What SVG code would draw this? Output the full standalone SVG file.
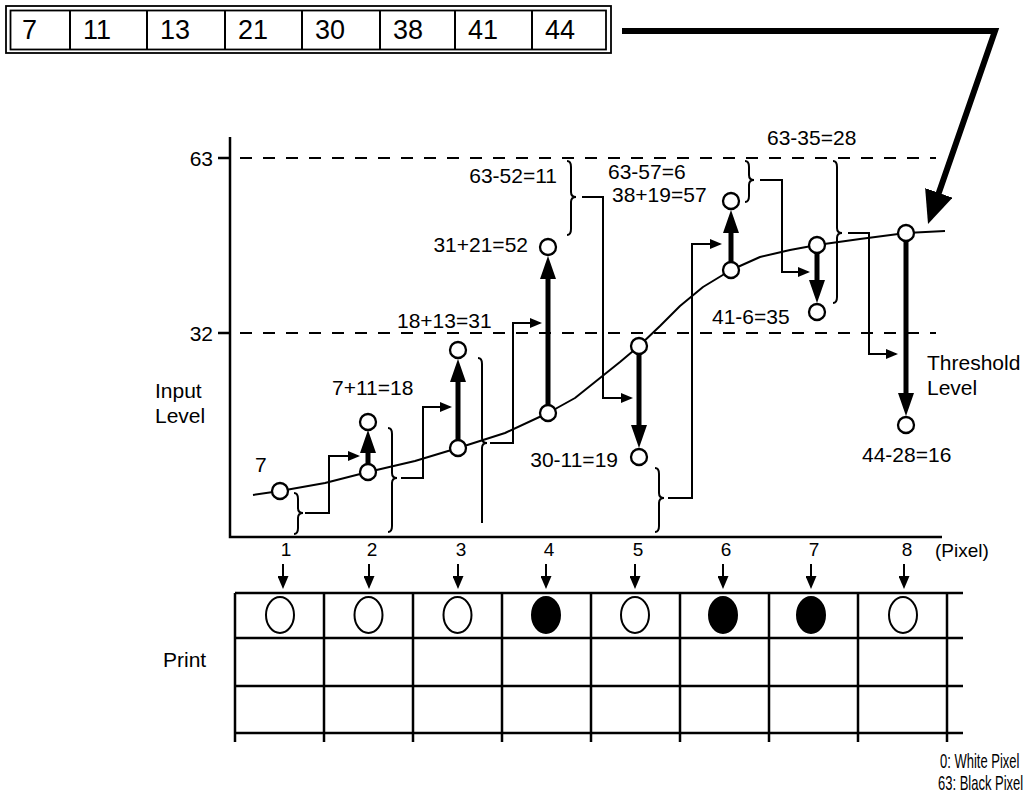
<svg xmlns="http://www.w3.org/2000/svg" width="1027" height="793" viewBox="0 0 1027 793">
<style>
text{font-family:"Liberation Sans",Arial,sans-serif;fill:#000}
.lb{font-size:21px}
.tb{font-size:27px}
.px{font-size:19px}
.lg{font-size:20px}
.ln{stroke:#000;fill:none;stroke-width:2}
.big{stroke:#000;fill:none;stroke-width:6;stroke-linejoin:miter}
.ax{stroke:#000;fill:none;stroke-width:2.5}
.dash{stroke:#000;fill:none;stroke-width:2;stroke-dasharray:12 11}
.br{stroke:#000;fill:none;stroke-width:2}
.thick{stroke:#000;fill:none;stroke-width:5}
.pt{fill:#fff;stroke:#000;stroke-width:2.3}
.el{fill:#fff;stroke:#000;stroke-width:2}
.elb{fill:#000;stroke:#000;stroke-width:2}
</style>
<defs>
<marker id="sa" markerUnits="userSpaceOnUse" markerWidth="12" markerHeight="10" refX="10" refY="5" orient="auto"><path d="M0,0 L12,5 L0,10 z" fill="#000"/></marker>
<marker id="ta" markerUnits="userSpaceOnUse" markerWidth="23" markerHeight="16" refX="1" refY="8" orient="auto"><path d="M0,0 L23,8 L0,16 z" fill="#000"/></marker>
<marker id="pa" markerUnits="userSpaceOnUse" markerWidth="13" markerHeight="11" refX="1" refY="5.5" orient="auto"><path d="M0,0 L13,5.5 L0,11 z" fill="#000"/></marker>
<marker id="ba" markerUnits="userSpaceOnUse" markerWidth="33" markerHeight="29" refX="1" refY="14.5" orient="auto"><path d="M0,0 L33,14.5 L0,29 z" fill="#000"/></marker>
</defs>

<g id="input-table">
<rect x="6" y="6" width="605" height="47" fill="none" stroke="#000" stroke-width="1.8"/>
<rect x="10.5" y="10.5" width="595.5" height="39" fill="none" stroke="#000" stroke-width="1.8"/>
<path class="ln" d="M70,10 V50 M147,10 V50 M225,10 V50 M302,10 V50 M380,10 V50 M455,10 V50 M532,10 V50"/>
<text class="tb" x="22" y="39">7</text>
<text class="tb" x="83" y="39">11</text>
<text class="tb" x="160" y="39">13</text>
<text class="tb" x="238" y="39">21</text>
<text class="tb" x="315" y="39">30</text>
<text class="tb" x="393" y="39">38</text>
<text class="tb" x="468" y="39">41</text>
<text class="tb" x="545" y="39">44</text>
</g>

<g id="axes">
<path class="ax" d="M230,137 V537 H942"/>
<path class="ax" d="M218,158 H230 M218,333 H230"/>
<path class="dash" d="M240,158 H936 M240,333 H936"/>
<text class="lb" x="213" y="166" text-anchor="end">63</text>
<text class="lb" x="213" y="341" text-anchor="end">32</text>
<text class="lb" x="155" y="398">Input</text>
<text class="lb" x="155" y="423">Level</text>
<text class="lb" x="927" y="370">Threshold</text>
<text class="lb" x="927" y="395">Level</text>
</g>

<g id="curve">
<polyline class="ln" stroke-linejoin="round" points="253,495 280,491 325,483 368,472 415,461 458,448 505,433 548,413 575,398 600,378 620,362 639,346 660,326 680,306 703,287 731,270 760,257 790,250 817,245 860,239 906,233 945,231"/>
</g>

<g id="connectors">
<polyline class="big" points="622,31 995,31 938.5,193.8" marker-end="url(#ba)"/>
<line class="thick" x1="368" y1="465" x2="368" y2="452" marker-end="url(#ta)"/>
<line class="thick" x1="458" y1="440" x2="458" y2="381" marker-end="url(#ta)"/>
<line class="thick" x1="548" y1="405" x2="548" y2="278" marker-end="url(#ta)"/>
<line class="thick" x1="639" y1="354" x2="639" y2="426" marker-end="url(#ta)"/>
<line class="thick" x1="731" y1="262" x2="731" y2="232" marker-end="url(#ta)"/>
<line class="thick" x1="817" y1="253" x2="817" y2="281" marker-end="url(#ta)"/>
<line class="thick" x1="906" y1="241" x2="906" y2="394" marker-end="url(#ta)"/>
<polyline class="ln" points="305,513 329,513 329,456 358,456" marker-end="url(#sa)"/>
<polyline class="ln" points="401,478 423,478 423,407 450,407" marker-end="url(#sa)"/>
<polyline class="ln" points="490,443 513,443 513,323 540,323" marker-end="url(#sa)"/>
<polyline class="ln" points="582,197 603,197 603,398 631,398" marker-end="url(#sa)"/>
<polyline class="ln" points="668,498 692,498 692,244 720,244" marker-end="url(#sa)"/>
<polyline class="ln" points="760,180 782,180 782,272 808,272" marker-end="url(#sa)"/>
<polyline class="ln" points="848,233 869,233 869,354 896,354" marker-end="url(#sa)"/>
<line class="ln" x1="283" y1="564" x2="283" y2="577" marker-end="url(#pa)"/>
<line class="ln" x1="369" y1="564" x2="369" y2="577" marker-end="url(#pa)"/>
<line class="ln" x1="458" y1="564" x2="458" y2="577" marker-end="url(#pa)"/>
<line class="ln" x1="546" y1="564" x2="546" y2="577" marker-end="url(#pa)"/>
<line class="ln" x1="635" y1="564" x2="635" y2="577" marker-end="url(#pa)"/>
<line class="ln" x1="723" y1="564" x2="723" y2="577" marker-end="url(#pa)"/>
<line class="ln" x1="811" y1="564" x2="811" y2="577" marker-end="url(#pa)"/>
<line class="ln" x1="904" y1="564" x2="904" y2="577" marker-end="url(#pa)"/>
</g>

<g id="braces">
<path class="br" d="M294,493 Q298,493 298,499 L298,508 Q298,513 303,513 Q298,513 298,518 L298,528 Q298,534 294,534"/>
<path class="br" d="M388,428 Q392,428 392,434 L392,473 Q392,478 397,478 Q392,478 392,483 L392,526 Q392,532 388,532"/>
<path class="br" d="M478,358 Q482,358 482,364 L482,438 Q482,443 487,443 Q482,443 482,448 L482,523"/>
<path class="br" d="M567,161 Q571,161 571,167 L571,192 Q571,197 576,197 Q571,197 571,202 L571,229 Q571,235 567,235"/>
<path class="br" d="M655,468 Q659,468 659,474 L659,493 Q659,498 664,498 Q659,498 659,503 L659,526 Q659,532 655,532"/>
<path class="br" d="M745,161 Q749,161 749,167 L749,175 Q749,180 754,180 Q749,180 749,185 L749,196 Q749,202 745,202"/>
<path class="br" d="M833,161 Q837,161 837,167 L837,228 Q837,233 842,233 Q837,233 837,238 L837,297 Q837,303 833,303"/>
</g>

<g id="pixel1"><circle class="pt" cx="280" cy="491" r="8"/><text class="lb" x="255" y="472">7</text></g>
<g id="pixel2"><circle class="pt" cx="368" cy="472" r="8"/><circle class="pt" cx="368" cy="422" r="8"/><text class="lb" x="332" y="395">7+11=18</text></g>
<g id="pixel3"><circle class="pt" cx="458" cy="448" r="8"/><circle class="pt" cx="458" cy="350" r="8"/><text class="lb" x="397" y="328">18+13=31</text></g>
<g id="pixel4"><circle class="pt" cx="548" cy="413" r="8"/><circle class="pt" cx="548" cy="247" r="8"/><text class="lb" x="528" y="252" text-anchor="end">31+21=52</text><text class="lb" x="557" y="183" text-anchor="end">63-52=11</text></g>
<g id="pixel5"><circle class="pt" cx="639" cy="346" r="8"/><circle class="pt" cx="639" cy="457" r="8"/><text class="lb" x="618" y="467" text-anchor="end">30-11=19</text></g>
<g id="pixel6"><circle class="pt" cx="731" cy="270" r="8"/><circle class="pt" cx="731" cy="201" r="8"/><text class="lb" x="608" y="179">63-57=6</text><text class="lb" x="612" y="202">38+19=57</text></g>
<g id="pixel7"><circle class="pt" cx="817" cy="245" r="8"/><circle class="pt" cx="817" cy="312" r="8"/><text class="lb" x="712" y="324">41-6=35</text><text class="lb" x="767" y="145">63-35=28</text></g>
<g id="pixel8"><circle class="pt" cx="906" cy="233" r="8"/><circle class="pt" cx="906" cy="425" r="8"/><text class="lb" x="862" y="462">44-28=16</text></g>

<g id="pixel-labels">
<text class="px" x="286" y="556" text-anchor="middle">1</text>
<text class="px" x="372" y="556" text-anchor="middle">2</text>
<text class="px" x="461" y="556" text-anchor="middle">3</text>
<text class="px" x="549" y="556" text-anchor="middle">4</text>
<text class="px" x="638" y="556" text-anchor="middle">5</text>
<text class="px" x="726" y="556" text-anchor="middle">6</text>
<text class="px" x="814" y="556" text-anchor="middle">7</text>
<text class="px" x="907" y="556" text-anchor="middle">8</text>
<text class="px" x="935" y="557">(Pixel)</text>
</g>

<g id="print-grid">
<path class="ax" d="M235,593 H963 M235,638 H963 M235,686 H963 M235,733 H963"/>
<path class="ax" d="M235,593 V742 M324,593 V742 M413,593 V742 M502,593 V742 M591,593 V742 M680,593 V742 M769,593 V742 M858,593 V742 M947,593 V742"/>
<ellipse class="el" cx="280" cy="615" rx="14" ry="18"/>
<ellipse class="el" cx="368.5" cy="615" rx="14" ry="18"/>
<ellipse class="el" cx="457.5" cy="615" rx="14" ry="18"/>
<ellipse class="elb" cx="546" cy="615" rx="14" ry="18"/>
<ellipse class="el" cx="635" cy="615" rx="14" ry="18"/>
<ellipse class="elb" cx="723" cy="615" rx="14" ry="18"/>
<ellipse class="elb" cx="811" cy="615" rx="14" ry="18"/>
<ellipse class="el" cx="903" cy="615" rx="14" ry="18"/>
<text class="lb" x="163" y="667">Print</text>
<text class="lg" transform="translate(940,768) scale(0.65,1)">0: White Pixel</text>
<text class="lg" transform="translate(938,790) scale(0.65,1)">63: Black Pixel</text>
</g>
</svg>
